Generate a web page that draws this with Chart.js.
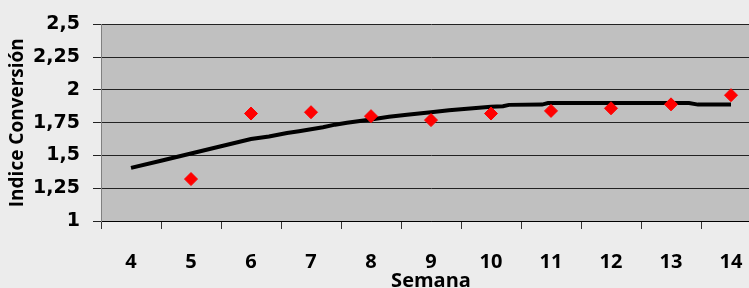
<!DOCTYPE html>
<html>
<head>
<meta charset="utf-8">
<script src="https://cdn.jsdelivr.net/npm/chart.js@4/dist/chart.umd.min.js"></script>
<style>
  html, body { margin: 0; padding: 0; overflow: hidden; background: #ececec; }
  #wrap { position: absolute; left: 0; top: 0; width: 770px; height: 300px; }
</style>
</head>
<body>
<div id="wrap"><canvas id="myChart"></canvas></div>
<script>
// semanas (eje X) y valores medidos
const weeks = ["4", "5", "6", "7", "8", "9", "10", "11", "12", "13", "14"];
const measured = [null, 1.32, 1.82, 1.83, 1.80, 1.77, 1.82, 1.84, 1.86, 1.89, 1.96];

// curva de referencia (semana, indice)
const refWeeks = [4, 4.5, 5, 5.5, 6, 6.3, 6.6, 6.8, 7, 7.2, 7.4, 7.6, 8, 8.3, 8.6, 9, 9.3, 9.7, 10, 10.2, 10.3, 10.85, 10.95, 13.3, 13.45, 14];
const refValues = [1.405, 1.46, 1.515, 1.57, 1.625, 1.645, 1.672, 1.685, 1.70, 1.715, 1.735, 1.75, 1.775, 1.795, 1.81, 1.83, 1.845, 1.86, 1.872, 1.875, 1.886, 1.888, 1.90, 1.90, 1.888, 1.888];

const yTickLabels = ["1", "1,25", "1,5", "1,75", "2", "2,25", "2,5"];

const plotBg = {
	id: "plotBg",
	beforeDraw(chart) {
		const { ctx, chartArea: a } = chart;
		ctx.save();
		ctx.fillStyle = "#c0c0c0";
		ctx.fillRect(a.left, a.top, a.right - a.left, a.bottom - a.top);
		ctx.restore();
	},
};

const ctx = document.getElementById("myChart");

new Chart(ctx, {
	data: {
		labels: weeks,
		datasets: [
			{
				type: "line",
				label: "Real",
				data: measured,
				xAxisID: "x",
				showLine: false,
				pointStyle: "rectRot",
				pointRadius: 6.5,
				pointBackgroundColor: "#ff0000",
				pointBorderColor: "#ff0000",
				pointBorderWidth: 1,
			},
			{
				type: "line",
				label: "Referencia",
				data: refWeeks.map((w, i) => ({ x: w, y: refValues[i] })),
				xAxisID: "x2",
				borderColor: "#000000",
				borderWidth: 4,
				pointRadius: 0,
				tension: 0,
			},
		],
	},
	options: {
		responsive: true,
		maintainAspectRatio: false,
		animation: false,
		layout: { padding: { top: 16, right: 9, left: 0, bottom: 0 } },
		plugins: { legend: { display: false }, tooltip: { enabled: false } },
		scales: {
			x: {
				type: "category",
				offset: true,
				afterFit: (s) => { s.height = 79; },
				grid: {
					offset: true,
					drawOnChartArea: false,
					drawTicks: true,
					tickLength: 8,
					tickColor: "#333333",
				},
				border: { color: "#000000", width: 1 },
				ticks: {
					color: "#000000",
					padding: 21,
					font: { family: "Open Sans", size: 20, weight: "bold" },
				},
				title: {
					display: true,
					text: "Semana",
					color: "#000000",
					padding: { top: 0, bottom: 7 },
					font: { family: "Open Sans", size: 20, weight: "bold" },
				},
			},
			x2: {
				type: "linear",
				display: false,
				min: 3.5,
				max: 14.5,
			},
			y: {
				min: 1,
				max: 2.5,
				afterFit: (s) => { s.width = 101; },
				grid: {
					color: "#222222",
					lineWidth: 1,
					tickLength: 8,
					tickColor: "#222222",
				},
				border: { color: "#808080", width: 1 },
				ticks: {
					stepSize: 0.25,
					color: "#000000",
					padding: 13,
					font: { family: "DejaVu Sans", size: 19, weight: "bold" },
					callback: (v, i) => yTickLabels[i],
				},
				title: {
					display: true,
					text: "Indice Conversión",
					color: "#000000",
					padding: { top: 6, bottom: 0 },
					font: { family: "Open Sans", size: 19, weight: "bold" },
				},
			},
		},
	},
	plugins: [plotBg],
});
</script>
</body>
</html>
